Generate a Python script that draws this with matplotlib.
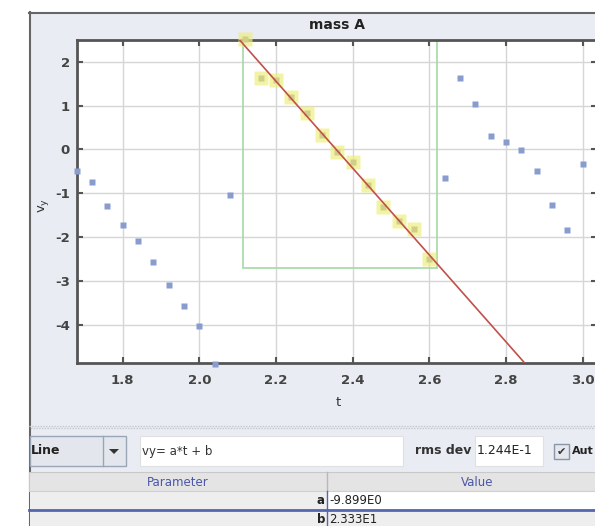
import numpy as np
import matplotlib
matplotlib.use("Agg")
import matplotlib.pyplot as plt
from matplotlib.patches import Rectangle, Polygon
from matplotlib.lines import Line2D

# ---------------- data ----------------
t_left = [1.68, 1.72, 1.76, 1.80, 1.84, 1.88, 1.92, 1.96, 2.00, 2.04, 2.08]
vy_left = [-0.49, -0.74, -1.28, -1.72, -2.08, -2.57, -3.10, -3.57, -4.02, -4.88, -1.03]

t_fit = [2.12, 2.16, 2.20, 2.24, 2.28, 2.32, 2.36, 2.40, 2.44, 2.48, 2.52, 2.56, 2.60]
vy_fit = [2.52, 1.63, 1.58, 1.20, 0.82, 0.33, -0.05, -0.28, -0.80, -1.31, -1.63, -1.82, -2.50]

t_right = [2.64, 2.68, 2.72, 2.76, 2.80, 2.84, 2.88, 2.92, 2.96, 3.00]
vy_right = [-0.66, 1.63, 1.03, 0.30, 0.17, -0.02, -0.49, -1.27, -1.84, -0.34]

fit_a = -9.899
fit_b = 23.33
sel_t = [2.115, 2.621]
sel_vy = [-2.69, 2.8]

x_ticks = [1.8, 2.0, 2.2, 2.4, 2.6, 2.8, 3.0]
y_ticks = [-4, -3, -2, -1, 0, 1, 2]

title = "mass A"
param_names = ["a", "b"]
param_values = ["-9.899E0", "2.333E1"]
rms_text = "1.244E-1"
equation = "vy= a*t + b"

# ---------------- figure ----------------
W, H = 595, 526
fig = plt.figure(figsize=(W / 100, H / 100), dpi=100)
fig.patch.set_facecolor("white")

def fx(x):
    return x / W

def fy(y):
    return 1 - y / H

def rect(x0, y0, x1, y1, **kw):
    r = Rectangle((fx(x0), fy(y1)), fx(x1) - fx(x0), fy(y0) - fy(y1),
                  transform=fig.transFigure, **kw)
    fig.add_artist(r)
    return r

def hline(x0, x1, y, **kw):
    fig.add_artist(Line2D([fx(x0), fx(x1)], [fy(y), fy(y)], transform=fig.transFigure, **kw))

def vline(x, y0, y1, **kw):
    fig.add_artist(Line2D([fx(x), fx(x)], [fy(y0), fy(y1)], transform=fig.transFigure, **kw))

def text(x, y, s, **kw):
    fig.text(fx(x), fy(y), s, **kw)

# panel background
rect(29, 12, 600, 530, facecolor="#e9ecf2", edgecolor="none", zorder=0)
vline(29.5, 12, 526, color="#666666", lw=1.5, zorder=1)
hline(29, 600, 12.5, color="#666666", lw=1.5, zorder=1)

# ---------------- axes ----------------
ax_l, ax_r, ax_t, ax_b = 77, 597, 40, 363
ax = fig.add_axes([fx(ax_l), fy(ax_b), fx(ax_r) - fx(ax_l), fy(ax_t) - fy(ax_b)])
ax.set_facecolor("white")
ax.set_xlim(1.6808, 3.037)
ax.set_ylim(-4.866, 2.494)
ax.set_xticks(x_ticks)
ax.set_yticks(y_ticks)
ax.set_xticklabels([f"{v:.1f}" for v in x_ticks])
ax.set_yticklabels([f"{v:d}" for v in y_ticks])
ax.grid(True, color="#d6d6d6", lw=1)
ax.set_axisbelow(True)
ax.tick_params(direction="in", length=4, width=1.5, color="#555555",
               labelsize=9.5, labelcolor="#444444", top=True, right=True)
ax.tick_params(axis="x", pad=8)
ax.tick_params(axis="y", pad=5)
for lab in ax.get_xticklabels() + ax.get_yticklabels():
    lab.set_fontweight("bold")
for s in ["left", "bottom", "top"]:
    ax.spines[s].set_color("#555555")
    ax.spines[s].set_linewidth(2)
ax.spines["right"].set_visible(False)

# selection rectangle
ax.add_patch(Rectangle((sel_t[0], sel_vy[0]), sel_t[1] - sel_t[0], sel_vy[1] - sel_vy[0],
                       fill=False, edgecolor="#a6d8a6", lw=1.2, zorder=2))

# data points
ax.plot(t_left, vy_left, "s", color="#8a9ccf", ms=4.5, mec="none", zorder=3, clip_on=False)
ax.plot(t_right, vy_right, "s", color="#8a9ccf", ms=4.5, mec="none", zorder=3, clip_on=False)
ax.plot(t_fit, vy_fit, "s", color="#eeee80", alpha=0.7, ms=10, mec="none", zorder=3, clip_on=False)
ax.plot(t_fit, vy_fit, "s", color="#cfcf8a", ms=4.5, mec="none", zorder=4, clip_on=False)

# fit line
tl = np.array(ax.get_xlim())
ax.plot(tl, fit_a * tl + fit_b, color="#c0504a", lw=1.2, zorder=5)

# titles / labels
text((ax_l + ax_r) / 2, 25, title, ha="center", va="center", fontsize=10,
     fontweight="bold", color="#222222")
text(338, 403, "t", ha="center", va="center", fontsize=9.5, color="#333333")
text(43, 205, r"v$_\mathregular{y}$", ha="center", va="center", fontsize=9.5,
     color="#333333", rotation=90)

# ---------------- bottom tool bar ----------------
hline(29, 600, 426, color="#c4c8cf", lw=1, ls=(0, (1, 1)))
hline(29, 600, 428, color="#c4c8cf", lw=1, ls=(1, (1, 1)))

# combobox
rect(30, 436, 126, 466, facecolor="#e3e7ed", edgecolor="#9aa6b6", lw=1, zorder=2)
vline(103, 436, 466, color="#9aa6b6", lw=1, zorder=3)
fig.add_artist(Polygon([[fx(109), fy(449)], [fx(119), fy(449)], [fx(114), fy(454)]],
                       closed=True, transform=fig.transFigure, facecolor="#333333",
                       edgecolor="none", zorder=3))
text(31, 451, "Line", ha="left", va="center", fontsize=9, fontweight="bold", color="#222222")

# equation field
rect(140, 436, 403, 466, facecolor="white", edgecolor="#e0e0e0", lw=0.8, zorder=2)
text(142, 451, equation, ha="left", va="center", fontsize=8.5, color="#333333")

# rms dev
text(471, 451, "rms dev", ha="right", va="center", fontsize=9, fontweight="bold", color="#333333")
rect(475, 436, 543, 466, facecolor="white", edgecolor="#e0e0e0", lw=0.8, zorder=2)
text(477, 451, rms_text, ha="left", va="center", fontsize=9, color="#222222")

# checkbox
rect(554, 444, 569, 459, facecolor="#e4e8ee", edgecolor="#8a96a6", lw=1, zorder=2)
text(561.5, 451.5, "\u2714", ha="center", va="center", fontsize=8, color="#333333")
text(572, 451, "Aut", ha="left", va="center", fontsize=8, fontweight="bold", color="#222222")

# ---------------- table ----------------
rect(29, 472, 600, 491, facecolor="#e4e4e4", edgecolor="#c8c8c8", lw=0.8, zorder=2)
vline(327, 472, 491, color="#b8b8b8", lw=1, zorder=3)
text(178, 482, "Parameter", ha="center", va="center", fontsize=8.5, color="#4a56a8")
text(477, 482, "Value", ha="center", va="center", fontsize=8.5, color="#4a56a8")

rows_y = [(491, 509), (511, 527)]
for (y0, y1), name, val in zip(rows_y, param_names, param_values):
    rect(30, y0, 327, y1, facecolor="#eeeeee", edgecolor="none", zorder=2)
    rect(327, y0, 600, y1, facecolor="white" if name == "a" else "#eeeeee",
         edgecolor="none", zorder=2)
    text(325, (y0 + y1) / 2 + 0.5, name, ha="right", va="center", fontsize=8.5,
         fontweight="bold", color="#222222")
    text(329, (y0 + y1) / 2 + 0.5, val, ha="left", va="center", fontsize=8.5,
         color="#222222")
hline(29, 600, 491, color="#d0d0d0", lw=0.8, zorder=3)
hline(29, 600, 510, color="#5566b0", lw=2, zorder=3)
vline(327, 491, 526, color="#5566b0", lw=1, zorder=3)

fig.savefig("out.png", dpi=100)
